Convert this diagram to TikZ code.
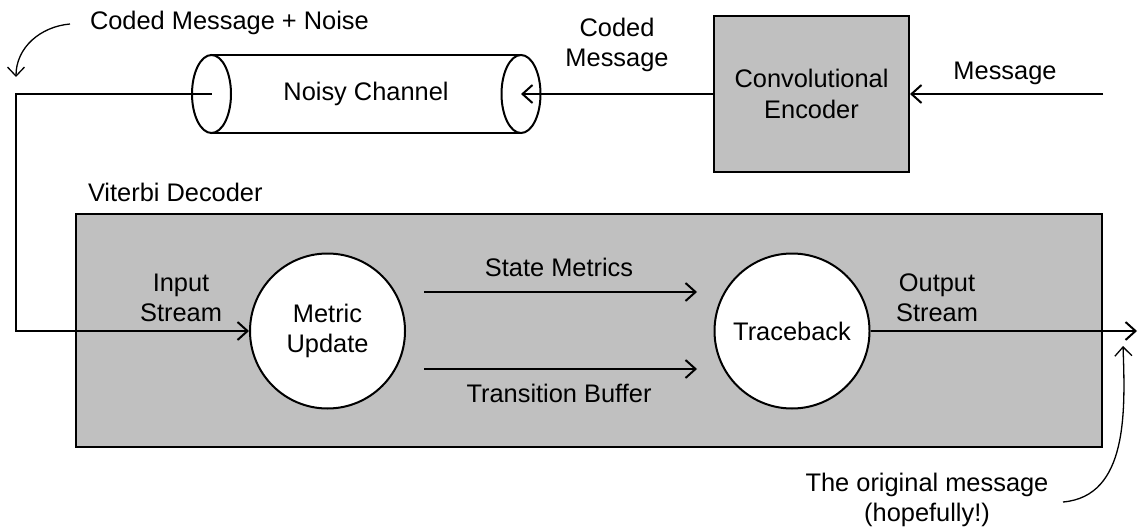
\documentclass[tikz,border=0pt]{standalone}
\usepackage{fontspec}
\setmainfont{Liberation Sans}
\usetikzlibrary{arrows.meta}
\definecolor{boxgray}{HTML}{C0C0C0}
\begin{document}
\begin{tikzpicture}[x=0.5pt,y=-0.5pt,
  font=\fontsize{12.7}{15.2}\selectfont,
  line width=1pt,
  tip/.style={-{Straight Barb[length=5pt,width=9pt,line width=1pt]}},
  thintip/.style={-{Straight Barb[length=4.5pt,width=8.5pt,line width=0.65pt]}, line width=0.65pt},
  graybox/.style={draw, fill=boxgray, inner sep=0pt},
  circ/.style={draw, fill=white, circle, minimum size=77.5pt, inner sep=0pt, align=center},
  lbl/.style={align=center, inner sep=0pt}]
\useasboundingbox (0,0) rectangle (1138,529);

% Viterbi decoder box
\node[graybox, minimum width=513pt, minimum height=116.5pt] (dec) at (589,330.5) {};
\node[lbl, anchor=west] (declbl) at (87,192) {Viterbi Decoder};

% Encoder
\node[graybox, minimum width=97.5pt, minimum height=78pt, align=center] (enc) at (811.5,94) {Convolutional\\Encoder};
\coordinate (msgin) at (1103,94);

% Channel cylinder
\coordinate (cl) at (211.5,94);
\coordinate (cr) at (521,94);
\fill[white] (211.5,55) rectangle (521,133);
\draw (211.5,55) -- (521,55);
\draw (211.5,133) -- (521,133);
\draw[fill=white] (cr) ellipse [x radius=9.75pt, y radius=19.5pt];
\draw[fill=white] (cl) ellipse [x radius=9.75pt, y radius=19.5pt];
\node[lbl] (chan) at (366,94) {Noisy Channel};

% Circles
\node[circ] (mu) at (327.5,331) {Metric\\Update};
\node[circ] (tb) at (792,331) {Traceback};

% connectors top
\draw[tip] (msgin) -- (enc.east);
\draw[tip] (enc.west) -- (cr);
\coordinate (corner1) at (16,94);
\coordinate (corner2) at (16,331);
\draw[tip] (cl) -- (corner1) -- (corner2) -- (mu.west);

% inner arrows
\coordinate (sm1) at (424,292);
\coordinate (sm2) at (697,292);
\coordinate (tb1) at (424,369);
\coordinate (tb2) at (697,369);
\draw[tip] (sm1) -- (sm2);
\draw[tip] (tb1) -- (tb2);
\coordinate (out) at (1137,331);
\draw[tip] (tb.east) -- (out);

% labels
\node[lbl] (smlbl) at (559,267) {State Metrics};
\node[lbl] (tblbl) at (559,393) {Transition Buffer};
\node[lbl] (inlbl) at (181,298) {Input\\Stream};
\node[lbl] (outlbl) at (937,298) {Output\\Stream};
\node[lbl] (cmlbl) at (617,45) {Coded\\Message};
\node[lbl] (msglbl) at (1005,73) {Message};
\node[lbl, anchor=west] (cmnlbl) at (89,23) {Coded Message + Noise};
\node[lbl] (origlbl) at (927,500) {The original message\\(hopefully!)};

% curved annotation arrows
\coordinate (a1s) at (70,24);
\coordinate (a1e) at (16,77);
\draw[thintip] (a1s) to[out=185,in=90] (a1e);
\coordinate (a2s) at (1063,502);
\coordinate (a2e) at (1123,346);
\draw[thintip] (a2s) to[out=5,in=-88] (a2e);
\end{tikzpicture}
\end{document}
